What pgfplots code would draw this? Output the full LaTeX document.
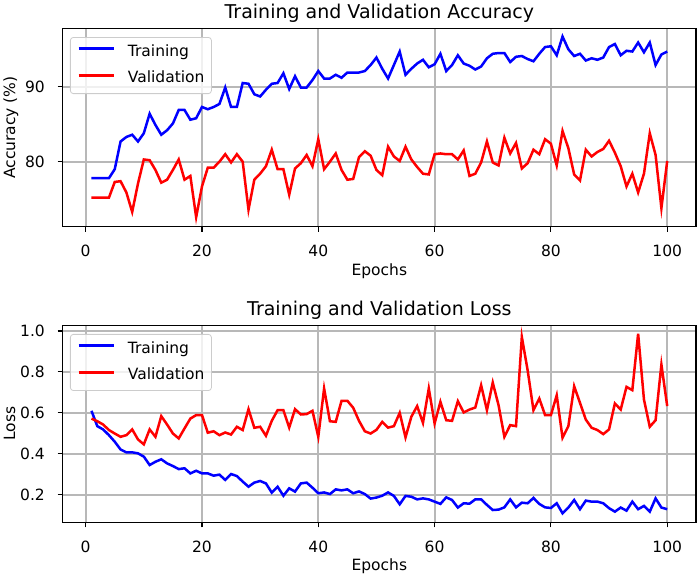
\documentclass[border=0pt]{standalone}
\usepackage{pgfplots}
\pgfplotsset{compat=1.18}
\usepackage{fontspec}
\setmainfont{DejaVu Sans}
\definecolor{gridgray}{HTML}{B8B8B8}
\definecolor{legedge}{HTML}{CCCCCC}
\begin{document}
\begin{tikzpicture}
\useasboundingbox (0,0) rectangle (699bp,577bp);
\pgfplotsset{
  every axis/.append style={
    scale only axis, width=633.3bp,
    xmin=-3.95, xmax=104.95,
    xtick={0,20,40,60,80,100},
    grid=major,
    major grid style={gridgray, line width=1.8bp},
    axis line style={black, line width=1.1bp},
    tick align=outside, major tick length=5bp,
    tick style={black, line width=1.1bp},
    xtick pos=bottom, ytick pos=left,
    /pgf/number format/assume math mode=true,
    tick label style={font=\fontsize{15.5bp}{18bp}\selectfont},
    label style={font=\fontsize{15.5bp}{18bp}\selectfont},
    title style={font=\fontsize{19bp}{22bp}\selectfont, at={(axis description cs:0.5,1.02)}, anchor=base, inner sep=0pt},
    xticklabel style={anchor=base, inner sep=0pt, yshift=-25bp},
    yticklabel style={anchor=east, inner sep=0pt, xshift=-12.7bp},
    xlabel style={at={(axis description cs:0.5,-0.2445)}, anchor=base, inner sep=0pt},
    ylabel style={at={(axis description cs:-0.0753,0.5)}, anchor=base, rotate=0, inner sep=0pt},
    legend style={at={(axis description cs:0.0115,0.956)}, anchor=north west,
      draw=legedge, rounded corners=3bp, fill=white, fill opacity=0.8, text opacity=1,
      font=\fontsize{15.5bp}{18bp}\selectfont, inner xsep=7bp, inner ysep=7bp,
      column sep=13bp, row sep=11.2bp, line width=0.8bp,
      nodes={inner sep=0pt, text height=11.8bp, text depth=3.7bp}},
    legend cell align=left,
    legend image code/.code={\draw[#1, line width=2.5bp] (0bp,0.35em) -- (35bp,0.35em);},
  },
}
% ---------- top axis
\begin{axis}[
  at={(62.7bp,350.3bp)}, anchor=south west,
  height=198.4bp,
  ymin=71.33, ymax=97.8,
  ytick={80,90},
  title={Training and Validation Accuracy},
  xlabel={Epochs}, ylabel={Accuracy (\%)},
]
\addplot[blue, line width=2.5bp] coordinates {
(1,77.8)(2,77.8)(3,77.8)(4,77.8)(5,79.0)(6,82.7)(7,83.3)(8,83.6)(9,82.7)(10,83.8)
(11,86.4)(12,84.9)(13,83.6)(14,84.2)(15,85.1)(16,86.9)(17,86.9)(18,85.6)(19,85.8)(20,87.3)
(21,87.0)(22,87.3)(23,87.7)(24,89.9)(25,87.3)(26,87.3)(27,90.5)(28,90.4)(29,89.0)(30,88.7)
(31,89.6)(32,90.4)(33,90.5)(34,91.8)(35,89.7)(36,91.4)(37,89.9)(38,89.9)(39,90.9)(40,92.1)
(41,91.1)(42,91.1)(43,91.6)(44,91.2)(45,91.9)(46,91.9)(47,91.9)(48,92.1)(49,92.9)(50,93.9)
(51,92.4)(52,91.1)(53,92.9)(54,94.7)(55,91.6)(56,92.4)(57,93.1)(58,93.6)(59,92.6)(60,93.0)
(61,94.4)(62,92.1)(63,92.9)(64,94.2)(65,93.1)(66,92.8)(67,92.3)(68,92.7)(69,93.8)(70,94.4)
(71,94.5)(72,94.5)(73,93.3)(74,94.0)(75,94.1)(76,93.7)(77,93.4)(78,94.4)(79,95.3)(80,95.4)
(81,94.2)(82,96.7)(83,95.0)(84,94.1)(85,94.4)(86,93.5)(87,93.8)(88,93.6)(89,93.9)(90,95.3)
(91,95.7)(92,94.2)(93,94.8)(94,94.7)(95,95.9)(96,94.6)(97,95.9)(98,92.9)(99,94.3)(100,94.7)
};
\addlegendentry{Training}
\addplot[red, line width=2.5bp] coordinates {
(1,75.2)(2,75.2)(3,75.2)(4,75.2)(5,77.3)(6,77.4)(7,75.9)(8,73.3)(9,77.1)(10,80.3)
(11,80.2)(12,78.9)(13,77.2)(14,77.6)(15,78.9)(16,80.3)(17,77.6)(18,78.1)(19,72.6)(20,76.7)
(21,79.2)(22,79.2)(23,80.0)(24,81.0)(25,79.9)(26,81.0)(27,80.0)(28,73.6)(29,77.6)(30,78.4)
(31,79.4)(32,81.6)(33,79.0)(34,79.0)(35,75.6)(36,79.1)(37,79.8)(38,80.9)(39,79.4)(40,83.0)
(41,79.0)(42,80.0)(43,81.1)(44,78.9)(45,77.6)(46,77.7)(47,80.6)(48,81.4)(49,80.8)(50,78.9)
(51,78.2)(52,82.0)(53,80.7)(54,80.1)(55,82.0)(56,80.3)(57,79.3)(58,78.4)(59,78.3)(60,81.0)
(61,81.1)(62,81.0)(63,81.0)(64,80.3)(65,81.5)(66,78.1)(67,78.4)(68,79.9)(69,82.7)(70,79.9)
(71,79.5)(72,83.2)(73,81.1)(74,82.5)(75,79.1)(76,79.8)(77,81.6)(78,81.0)(79,83.0)(80,82.4)
(81,79.5)(82,84.1)(83,81.8)(84,78.3)(85,77.5)(86,81.6)(87,80.7)(88,81.3)(89,81.7)(90,82.8)
(91,81.2)(92,79.4)(93,76.7)(94,78.4)(95,75.9)(96,78.4)(97,83.8)(98,80.9)(99,73.8)(100,80.1)
};
\addlegendentry{Validation\hspace{5bp}}
\end{axis}
% ---------- bottom axis
\begin{axis}[
  at={(62.7bp,54.7bp)}, anchor=south west,
  height=197bp,
  ymin=0.065, ymax=1.028,
  ytick={0.2,0.4,0.6,0.8,1.0},
  yticklabel style={/pgf/number format/.cd, fixed, fixed zerofill, precision=1},
  title={Training and Validation Loss},
  xlabel={Epochs}, ylabel={Loss},
]
\addplot[blue, line width=2.5bp] coordinates {
(1,0.610)(2,0.535)(3,0.519)(4,0.491)(5,0.459)(6,0.421)(7,0.407)(8,0.407)(9,0.402)(10,0.386)
(11,0.345)(12,0.361)(13,0.373)(14,0.353)(15,0.340)(16,0.325)(17,0.329)(18,0.304)(19,0.317)(20,0.304)
(21,0.304)(22,0.293)(23,0.298)(24,0.272)(25,0.301)(26,0.291)(27,0.264)(28,0.239)(29,0.259)(30,0.267)
(31,0.255)(32,0.210)(33,0.239)(34,0.195)(35,0.231)(36,0.215)(37,0.255)(38,0.259)(39,0.234)(40,0.207)
(41,0.211)(42,0.203)(43,0.226)(44,0.221)(45,0.226)(46,0.207)(47,0.216)(48,0.203)(49,0.181)(50,0.186)
(51,0.195)(52,0.211)(53,0.194)(54,0.153)(55,0.194)(56,0.190)(57,0.177)(58,0.182)(59,0.177)(60,0.166)
(61,0.155)(62,0.187)(63,0.174)(64,0.137)(65,0.158)(66,0.156)(67,0.177)(68,0.177)(69,0.150)(70,0.125)
(71,0.127)(72,0.138)(73,0.177)(74,0.138)(75,0.161)(76,0.158)(77,0.184)(78,0.155)(79,0.138)(80,0.135)
(81,0.158)(82,0.109)(83,0.137)(84,0.174)(85,0.129)(86,0.171)(87,0.166)(88,0.166)(89,0.158)(90,0.134)
(91,0.117)(92,0.137)(93,0.122)(94,0.166)(95,0.129)(96,0.145)(97,0.117)(98,0.182)(99,0.137)(100,0.129)
};
\addlegendentry{Training}
\addplot[red, line width=2.5bp] coordinates {
(1,0.572)(2,0.559)(3,0.543)(4,0.516)(5,0.499)(6,0.483)(7,0.491)(8,0.519)(9,0.470)(10,0.446)
(11,0.519)(12,0.483)(13,0.584)(14,0.543)(15,0.499)(16,0.475)(17,0.524)(18,0.572)(19,0.589)(20,0.589)
(21,0.503)(22,0.510)(23,0.491)(24,0.504)(25,0.494)(26,0.532)(27,0.516)(28,0.618)(29,0.527)(30,0.532)
(31,0.488)(32,0.561)(33,0.613)(34,0.613)(35,0.528)(36,0.618)(37,0.592)(38,0.594)(39,0.610)(40,0.483)
(41,0.719)(42,0.559)(43,0.556)(44,0.659)(45,0.659)(46,0.625)(47,0.561)(48,0.510)(49,0.499)(50,0.517)
(51,0.556)(52,0.528)(53,0.535)(54,0.600)(55,0.480)(56,0.581)(57,0.633)(58,0.551)(59,0.719)(60,0.548)
(61,0.654)(62,0.564)(63,0.561)(64,0.657)(65,0.602)(66,0.616)(67,0.626)(68,0.735)(69,0.613)(70,0.748)
(71,0.637)(72,0.483)(73,0.540)(74,0.535)(75,0.971)(76,0.808)(77,0.613)(78,0.670)(79,0.589)(80,0.589)
(81,0.686)(82,0.478)(83,0.535)(84,0.730)(85,0.649)(86,0.567)(87,0.527)(88,0.516)(89,0.496)(90,0.519)
(91,0.646)(92,0.616)(93,0.727)(94,0.711)(95,0.987)(96,0.665)(97,0.532)(98,0.564)(99,0.836)(100,0.633)
};
\addlegendentry{Validation\hspace{5bp}}
\end{axis}
\end{tikzpicture}
\end{document}
